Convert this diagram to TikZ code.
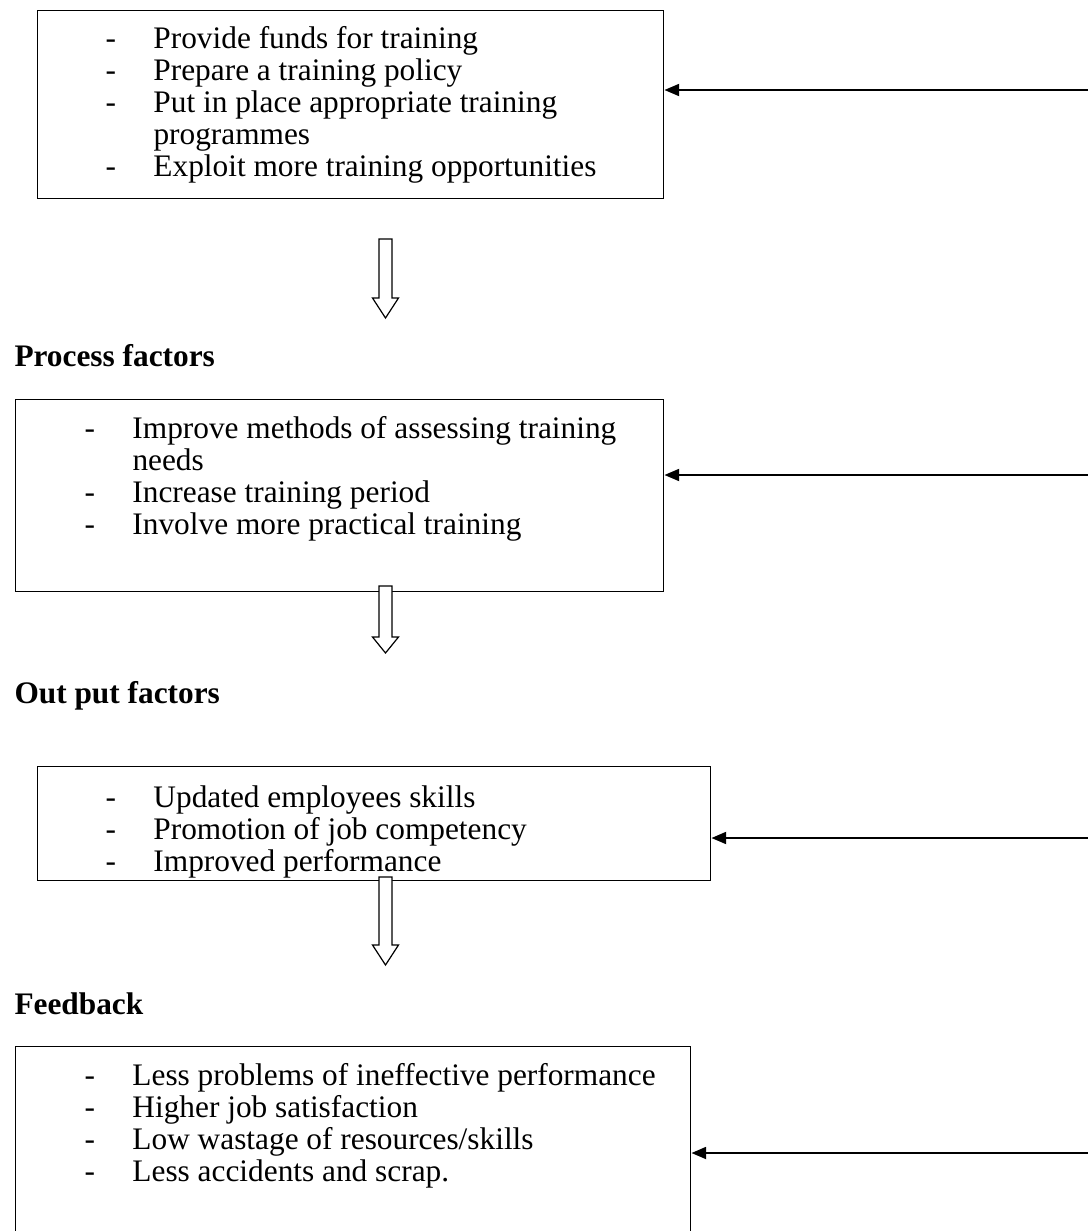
\documentclass[tikz,border=0pt]{standalone}
\usepackage{fontspec}
\setmainfont{Liberation Serif}
\usetikzlibrary{arrows.meta}

\tikzset{every picture/.style={line width=0.75pt}}
\tikzset{
  factorbox/.style={draw, line width=1.1pt, rectangle, anchor=north west, inner sep=0pt},
  itemlist/.style={anchor=base west, inner sep=0pt, font=\fontsize{23.5}{24}\selectfont},
  heading/.style={anchor=base west, inner sep=0pt, font=\fontsize{23.5}{24}\selectfont\bfseries},
  backarrow/.style={line width=1.4pt, -{Triangle[length=11pt,width=9pt]}},
  hollow/.style={draw, fill=white, line width=0.9pt, line join=miter}
}

\begin{document}
\begin{tikzpicture}[x=0.75pt,y=0.75pt,yscale=-1,xscale=1]
\useasboundingbox (0,0) rectangle (1088,1231);

%Shape: Rectangle (input)
\node[factorbox, minimum width=469.5pt, minimum height=141pt] (inbox) at (37,10) {};
%Shape: Rectangle (process)
\node[factorbox, minimum width=486pt, minimum height=144pt] (procbox) at (15,399) {};
%Shape: Rectangle (output)
\node[factorbox, minimum width=504.75pt, minimum height=85.5pt] (outbox) at (37,766) {};
%Shape: Rectangle (feedback)
\node[factorbox, minimum width=506.25pt, minimum height=149.25pt] (fbbox) at (15,1046) {};

% Text Node
\node[itemlist] (initems) at (105,49) {\begin{tabular}[t]{@{}p{36pt}@{}l@{}}
- & Provide funds for training\\
- & Prepare a training policy\\
- & Put in place appropriate training\\
  & programmes\\
- & Exploit more training opportunities
\end{tabular}};
% Text Node
\node[heading] (proclbl) at (14,366) {Process factors};
% Text Node
\node[itemlist] (procitems) at (84,438) {\begin{tabular}[t]{@{}p{36pt}@{}l@{}}
- & Improve methods of assessing training\\
  & needs\\
- & Increase training period\\
- & Involve more practical training
\end{tabular}};
% Text Node
\node[heading] (outlbl) at (14,703) {Out put factors};
% Text Node
\node[itemlist] (outitems) at (105,807) {\begin{tabular}[t]{@{}p{36pt}@{}l@{}}
- & Updated employees skills\\
- & Promotion of job competency\\
- & Improved performance
\end{tabular}};
% Text Node
\node[heading] (fblbl) at (14,1014) {Feedback};
% Text Node
\node[itemlist] (fbitems) at (84,1085) {\begin{tabular}[t]{@{}p{36pt}@{}l@{}}
- & Less problems of ineffective performance\\
- & Higher job satisfaction\\
- & Low wastage of resources/skills\\
- & Less accidents and scrap.
\end{tabular}};

%Block Arrows
\coordinate (dn1) at (385.5,239);
\coordinate (dn2) at (385.5,586);
\coordinate (dn3) at (385.5,877);
\draw[hollow] (dn1) ++(-6.5,0) -- ++(0,59) -- ++(-6.5,0) -- ++(13,20) -- ++(13,-20) -- ++(-6.5,0) -- ++(0,-59) -- cycle;
\draw[hollow] (dn2) ++(-6.5,0) -- ++(0,51) -- ++(-6.5,0) -- ++(13,16) -- ++(13,-16) -- ++(-6.5,0) -- ++(0,-51) -- cycle;
\draw[hollow] (dn3) ++(-6.5,0) -- ++(0,68) -- ++(-6.5,0) -- ++(13,20) -- ++(13,-20) -- ++(-6.5,0) -- ++(0,-68) -- cycle;

%Straight Lines (feedback returns)
\coordinate (ret1) at (1088,90);
\coordinate (ret2) at (1088,475);
\coordinate (ret3) at (1088,838);
\coordinate (ret4) at (1088,1153);
\draw[backarrow] (ret1) -- (ret1 -| inbox.east);
\draw[backarrow] (ret2) -- (ret2 -| procbox.east);
\draw[backarrow] (ret3) -- (ret3 -| outbox.east);
\draw[backarrow] (ret4) -- (ret4 -| fbbox.east);

\end{tikzpicture}
\end{document}
